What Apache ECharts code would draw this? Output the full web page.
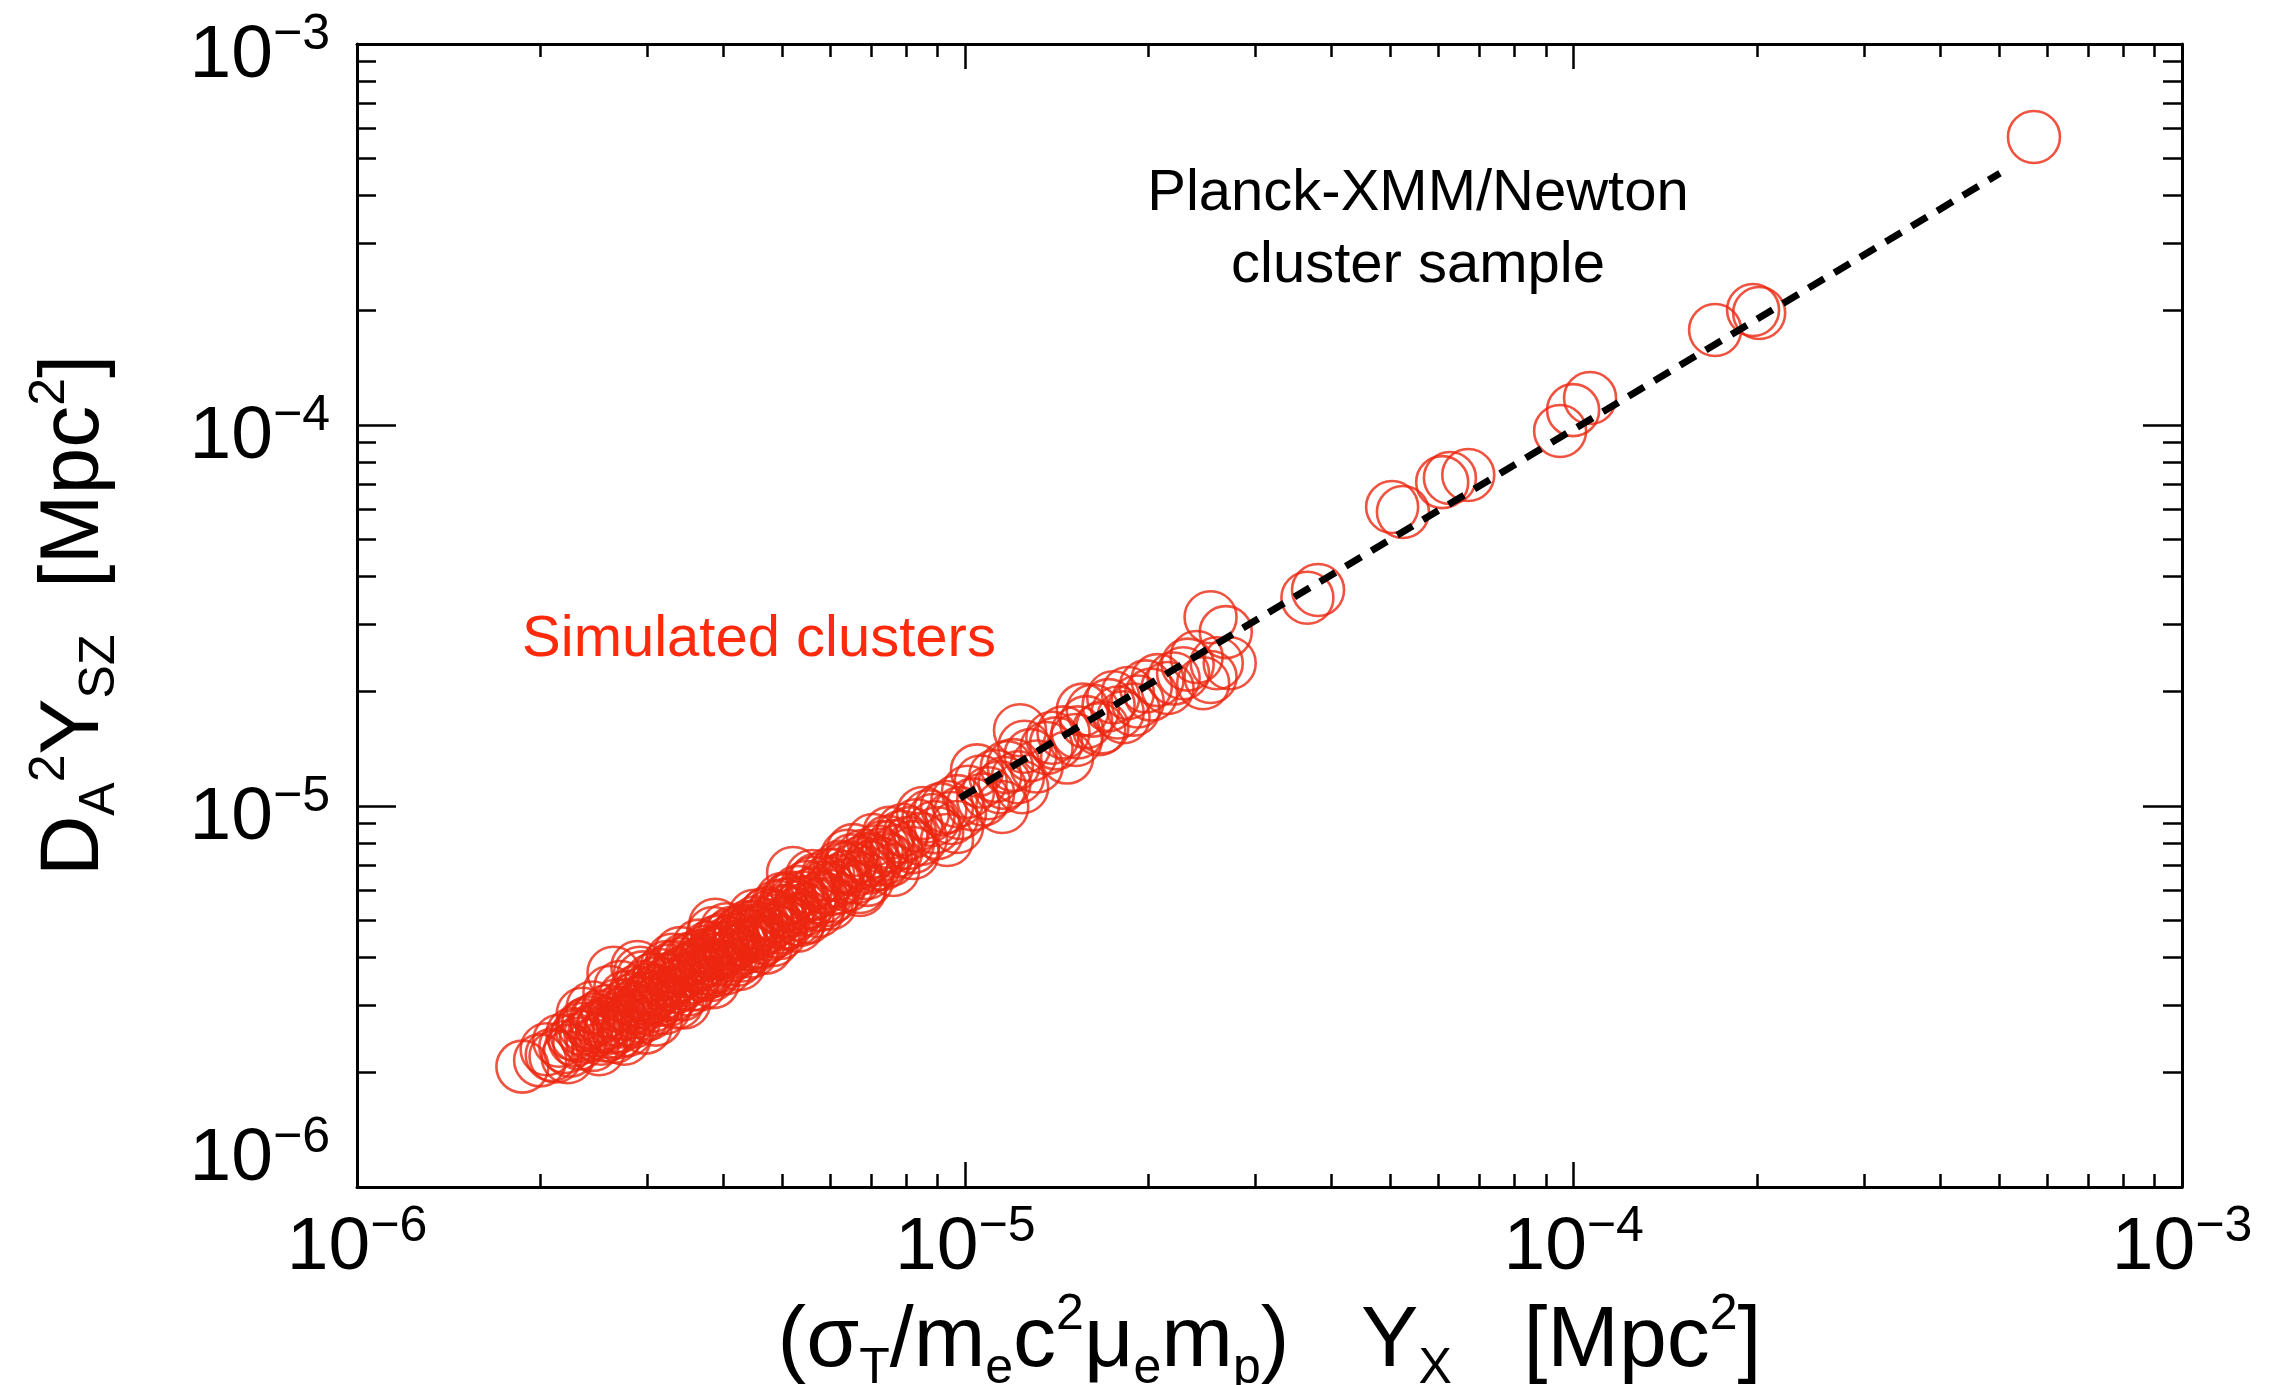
<!DOCTYPE html>
<html>
<head>
<meta charset="utf-8">
<title>DA^2 YSZ vs YX</title>
<script src="https://cdn.jsdelivr.net/npm/echarts@6/dist/echarts.min.js"></script>
<style>
  html, body { margin: 0; padding: 0; background: #ffffff; }
  #chart { width: 2296px; height: 1385px; }
</style>
</head>
<body>
<div id="chart"></div>
<script>
// simulated clusters, [Y_X, D_A^2 Y_SZ] in units of 1e-6 Mpc^2
var simClusters = [
  [1.87,2.07],[2.00,2.15],[2.05,2.30],[2.09,2.22],[2.12,2.20],[2.15,2.42],[2.20,2.33],[2.22,2.19],[2.24,2.28],[2.26,2.52],[2.28,2.43],[2.32,2.38],[2.34,2.60],
  [2.38,2.48],[2.40,2.70],[2.44,2.36],[2.44,2.96],[2.46,2.58],[2.48,2.63],[2.50,2.80],[2.52,2.45],[2.55,2.68],[2.58,2.90],[2.60,2.55],
  [2.63,2.75],[2.64,3.65],[2.65,2.48],[2.68,3.00],[2.70,2.64],[2.71,3.35],[2.74,2.85],[2.76,3.15],[2.78,2.58],[2.82,2.95],[2.85,2.72],[2.87,3.25],[2.89,3.78],
  [2.90,3.05],[2.92,3.65],[2.94,2.80],[2.96,3.35],[2.98,2.62],[3.00,3.12],[3.02,2.85],[3.05,3.50],[3.07,3.23],[3.08,3.00],[3.10,3.28],[3.14,3.60],[3.16,3.10],[3.20,2.95],[3.23,3.78],
  [3.24,3.40],[3.26,3.70],[3.30,3.20],[3.33,3.55],[3.36,3.05],[3.40,4.11],[3.40,3.85],[3.43,3.42],[3.46,3.68],[3.50,3.30],[3.53,3.95],[3.56,3.55],[3.60,3.80],[3.62,3.65],
  [3.66,3.40],[3.70,4.05],[3.73,3.75],[3.76,3.65],[3.78,4.25],[3.82,3.60],[3.85,4.64],[3.86,3.95],[3.88,4.88],[3.90,4.40],[3.94,3.80],[3.95,4.11],[4.00,4.20],[4.04,3.75],[4.06,4.27],[4.08,4.55],[4.12,4.05],[4.15,4.45],[4.18,4.35],
  [4.22,3.95],[4.26,4.64],[4.28,4.70],[4.32,4.25],[4.38,4.81],[4.40,4.55],[4.45,4.15],[4.48,4.81],[4.52,4.95],[4.58,4.40],[4.65,4.75],[4.70,5.20],[4.72,5.24],[4.76,4.60],[4.83,4.45],[4.85,5.00],[4.90,5.45],[4.95,4.80],[4.96,4.64],
  [5.02,5.30],[5.09,5.67],[5.10,4.95],[5.15,5.75],[5.21,6.67],[5.25,5.20],[5.30,5.95],[5.35,5.02],[5.35,5.43],[5.42,5.55],[5.49,6.13],[5.50,5.10],[5.58,5.85],[5.62,6.28],[5.68,6.40],[5.75,5.50],[5.85,6.10],[5.93,5.67],[5.95,6.60],[6.05,5.80],[6.15,6.35],[6.22,6.92],[6.30,6.85],[6.40,6.20],[6.50,7.20],[6.54,7.66],
  [6.62,6.50],[6.71,6.13],[6.71,6.02],[6.80,7.40],[6.89,6.67],[6.95,6.90],[7.05,8.14],[7.05,7.21],[7.15,7.60],[7.30,7.05],[7.32,7.80],[7.45,8.05],[7.52,7.21],[7.61,6.79],[7.70,7.60],[7.85,8.30],[7.90,8.65],[8.05,8.00],[8.11,8.49],[8.20,7.53],[8.30,8.90],[8.45,8.20],[8.52,9.59],[8.70,9.40],[8.85,9.19],[8.90,8.80],[8.99,8.49],[9.10,9.80],[9.33,8.14],[9.33,9.94],[9.50,9.30],[9.69,8.81],[9.70,10.3],[9.80,9.59],
  [10.1,10.9],[10.3,10.1],[10.45,12.4],[10.6,11.6],[10.7,10.4],[10.9,10.8],[11.2,12.0],[11.4,11.2],[11.5,9.94],[11.6,11.5],[11.7,12.65],[12.0,12.8],[12.2,11.9],[12.3,15.8],[12.4,11.2],[12.5,14.3],[12.8,13.6],[13.1,12.7],[13.6,14.2],[13.9,15.1],[14.1,14.6],[14.7,13.4],
  [14.5,15.6],[15.2,14.9],[15.3,15.6],[15.6,17.9],[15.8,16.6],[16.2,17.8],[16.6,15.9],[16.8,16.1],[17.2,18.4],[17.5,19.3],[17.8,17.6],[18.2,17.1],[18.5,19.8],[18.9,17.9],[19.2,18.8],[19.8,20.6],[20.2,19.6],[20.7,21.4],[21.5,20.4],[22.0,21.6],[22.8,22.3],[23.2,23.5],[24.0,24.6],[24.6,21.0],[25.3,21.8],[25.3,31.3],[25.9,23.7],[26.8,28.6],[27.2,23.7],
  [36.5,35.2],[38.0,36.9],[50.3,60.9],[52.4,59.1],[60.8,70.8],[62.6,72.6],[67.1,73.9],[95.0,96.4],[99.8,109.4],[106.4,117.7],[170.8,177.5],[197.2,200.4],[201.8,196.8],[571,570],
  // the packed part of the band
  [2.30,2.50],[2.36,2.66],[2.42,2.52],[2.47,2.75],[2.53,2.62],[2.56,2.50],[2.62,2.62],[2.66,2.86],[2.69,2.55],[2.73,2.72],[2.77,3.00],[2.80,2.75],[2.84,3.10],[2.86,2.88],[2.91,2.95],[2.93,3.20],[2.97,3.05],[3.01,3.30],[3.04,3.15],[3.06,2.92],
  [3.11,3.42],[3.13,3.15],[3.18,3.50],[3.21,3.25],[3.25,3.10],[3.28,3.50],[3.32,3.78],[3.35,3.35],[3.38,3.60],[3.42,3.20],[3.45,3.95],[3.48,3.50],[3.52,3.72],[3.55,3.40],[3.58,4.00],[3.64,3.85],[3.68,3.60],[3.72,3.90],[3.75,4.15],[3.80,3.75],
  [3.84,4.10],[3.89,3.70],[3.92,4.15],[3.97,4.45],[4.02,3.95],[4.05,4.35],[4.10,4.25],[4.14,4.65],[4.20,4.15],[4.24,4.45],[4.30,4.05],[4.35,4.60],[4.42,4.35],[4.46,4.70],[4.50,4.30],[4.55,4.65],[4.62,4.90],[4.68,4.50],[4.74,4.85],[4.80,5.15],
  [4.88,4.70],[4.93,5.10],[5.00,4.90],[5.05,5.50],[5.12,5.30],[5.20,5.55],[5.28,5.05],[5.38,5.75],[5.45,5.35],[5.55,5.60],[5.65,5.90],[5.72,5.30],[5.80,5.75],[5.90,6.30],[6.00,6.05],[6.10,6.60],[6.20,6.10],[6.35,6.50],[6.45,6.90],[6.60,6.80],
  [6.75,7.10],[6.90,7.25],[7.10,7.00],[7.25,7.45],[7.40,7.30],[7.60,7.85],
  // edges of the band
  [2.35,2.85],[2.50,2.30],[2.60,3.25],[2.75,2.45],[2.95,3.55],[3.10,2.75],[3.30,3.95],[3.45,3.05],[3.65,4.30],[3.85,3.45],[4.05,4.75],[4.25,3.85],
  [4.50,5.15],[4.70,4.25],[5.00,5.70],[5.30,4.85],[5.60,6.55],[6.00,5.55],[6.40,7.40],[6.90,6.40],[7.50,8.50],[8.20,7.80]
];
var simUnit = 1e-6;

// Planck-XMM/Newton fit (dashed), end points
var fitX = [9.8e-6, 5.02e-4];
var fitY = [1.05e-5, 4.58e-4];

// axes
var axisMin = 1e-6;
var axisMax = 1e-3;
var decades = [1e-6, 1e-5, 1e-4];
var minorMult = [2, 3, 4, 5, 6, 7, 8, 9];

var minorTicks = [];
decades.forEach(function (d) {
    minorMult.forEach(function (m) { minorTicks.push(m * d); });
});

var font = '"Liberation Sans", "DejaVu Sans", sans-serif';

function powerLabel(value) {
    var exp = Math.round(Math.log10(value));
    return '{b|10}{e|' + (exp < 0 ? '\u2212' : '') + Math.abs(exp) + '}';
}

var labelRich = {
    b: { fontSize: 75, lineHeight: 92, fontFamily: font, color: '#000' },
    e: { fontSize: 50, lineHeight: 42, verticalAlign: 'top', fontFamily: font, color: '#000' },
    gap: { fontSize: 10, lineHeight: 80 }
};

var nameRich = {
    s: { fontSize: 50, lineHeight: 50, verticalAlign: 'bottom', fontFamily: font, color: '#000' },
    p: { fontSize: 50, lineHeight: 50, verticalAlign: 'top', fontFamily: font, color: '#000' }
};

var lineStyle = { color: '#000', width: 3 };

function majorAxis(pos, extra) {
    var ax = {
        type: 'log',
        logBase: 10,
        position: pos,
        min: axisMin,
        max: axisMax,
        axisLine: { show: true, onZero: false, lineStyle: lineStyle },
        axisTick: { show: true, inside: true, length: 25, lineStyle: { color: '#000', width: 2.5 } },
        axisLabel: { show: false },
        splitLine: { show: false }
    };
    return Object.assign(ax, extra || {});
}

function minorAxis(pos, len) {
    return {
        type: 'log',
        logBase: 10,
        position: pos,
        min: axisMin,
        max: axisMax,
        axisLine: { show: false, onZero: false },
        axisTick: { show: true, inside: true, length: len, customValues: minorTicks,
            lineStyle: { color: '#000', width: 2.5 } },
        axisLabel: { show: false },
        splitLine: { show: false }
    };
}

var scatterData = simClusters.map(function (p) { return [p[0] * simUnit, p[1] * simUnit]; });
var fitData = fitX.map(function (x, i) { return [x, fitY[i]]; });

var myChart = echarts.init(document.getElementById('chart'));

var option = {
    animation: false,
    backgroundColor: '#ffffff',
    grid: {
        left: 357,
        right: 114,
        top: 44,
        bottom: 198,
        containLabel: false,
        outerBoundsMode: 'none'
    },
    xAxis: [
        majorAxis('bottom', {
            axisLabel: {
                show: true,
                margin: 15,
                formatter: powerLabel,
                rich: labelRich
            },
            name: '(\u03c3{s|T}/m{s|e}c{p|2}\u03bc{s|e}m{s|p})   Y{s|X}   [Mpc{p|2}]',
            nameLocation: 'middle',
            nameGap: 72,
            nameTextStyle: { fontSize: 86, lineHeight: 104, fontFamily: font, color: '#000', rich: nameRich }
        }),
        minorAxis('bottom', 13),
        majorAxis('top'),
        minorAxis('top', 13)
    ],
    yAxis: [
        majorAxis('left', {
            axisTick: { show: true, inside: true, length: 39, lineStyle: { color: '#000', width: 2.5 } },
            axisLabel: {
                show: true,
                margin: 27,
                padding: [24, 0, 0, 0],
                formatter: function (value) {
                    var s = powerLabel(value);
                    if (Math.round(Math.log10(value)) === -6) s += '\n{gap| }';
                    return s;
                },
                rich: labelRich
            },
            name: 'D{s|A}{p|2}Y{s|SZ}  [Mpc{p|2}]',
            nameLocation: 'middle',
            nameRotate: 90,
            nameGap: 232,
            nameTextStyle: { fontSize: 84, lineHeight: 100, fontFamily: font, color: '#000', rich: nameRich }
        }),
        minorAxis('left', 19),
        majorAxis('right', {
            axisTick: { show: true, inside: true, length: 39, lineStyle: { color: '#000', width: 2.5 } }
        }),
        minorAxis('right', 19)
    ],
    series: [
        {
            name: 'Simulated clusters',
            type: 'scatter',
            xAxisIndex: 0,
            yAxisIndex: 0,
            symbol: 'circle',
            symbolSize: 52,
            itemStyle: {
                color: 'rgba(0,0,0,0)',
                borderColor: '#ec2710',
                borderWidth: 2.6
            },
            emphasis: { disabled: true },
            data: scatterData,
            z: 2
        },
        {
            name: 'Planck-XMM/Newton cluster sample',
            type: 'line',
            xAxisIndex: 0,
            yAxisIndex: 0,
            showSymbol: false,
            symbol: 'none',
            lineStyle: { color: '#000', width: 7, type: [18, 12] },
            emphasis: { disabled: true },
            data: fitData,
            z: 5
        }
    ],
    graphic: [
        {
            type: 'text',
            x: 1418,
            y: 194,
            style: { text: 'Planck-XMM/Newton', fontSize: 58, fontFamily: font, fill: '#000',
                align: 'center', verticalAlign: 'middle' }
        },
        {
            type: 'text',
            x: 1418,
            y: 266,
            style: { text: 'cluster sample', fontSize: 58, fontFamily: font, fill: '#000',
                align: 'center', verticalAlign: 'middle' }
        },
        {
            type: 'text',
            x: 759,
            y: 640,
            style: { text: 'Simulated clusters', fontSize: 58, fontFamily: font, fill: '#ff2a0d',
                align: 'center', verticalAlign: 'middle' }
        }
    ]
};

myChart.setOption(option);
window.addEventListener('resize', function () {
    myChart.resize();
});
</script>
</body>
</html>
